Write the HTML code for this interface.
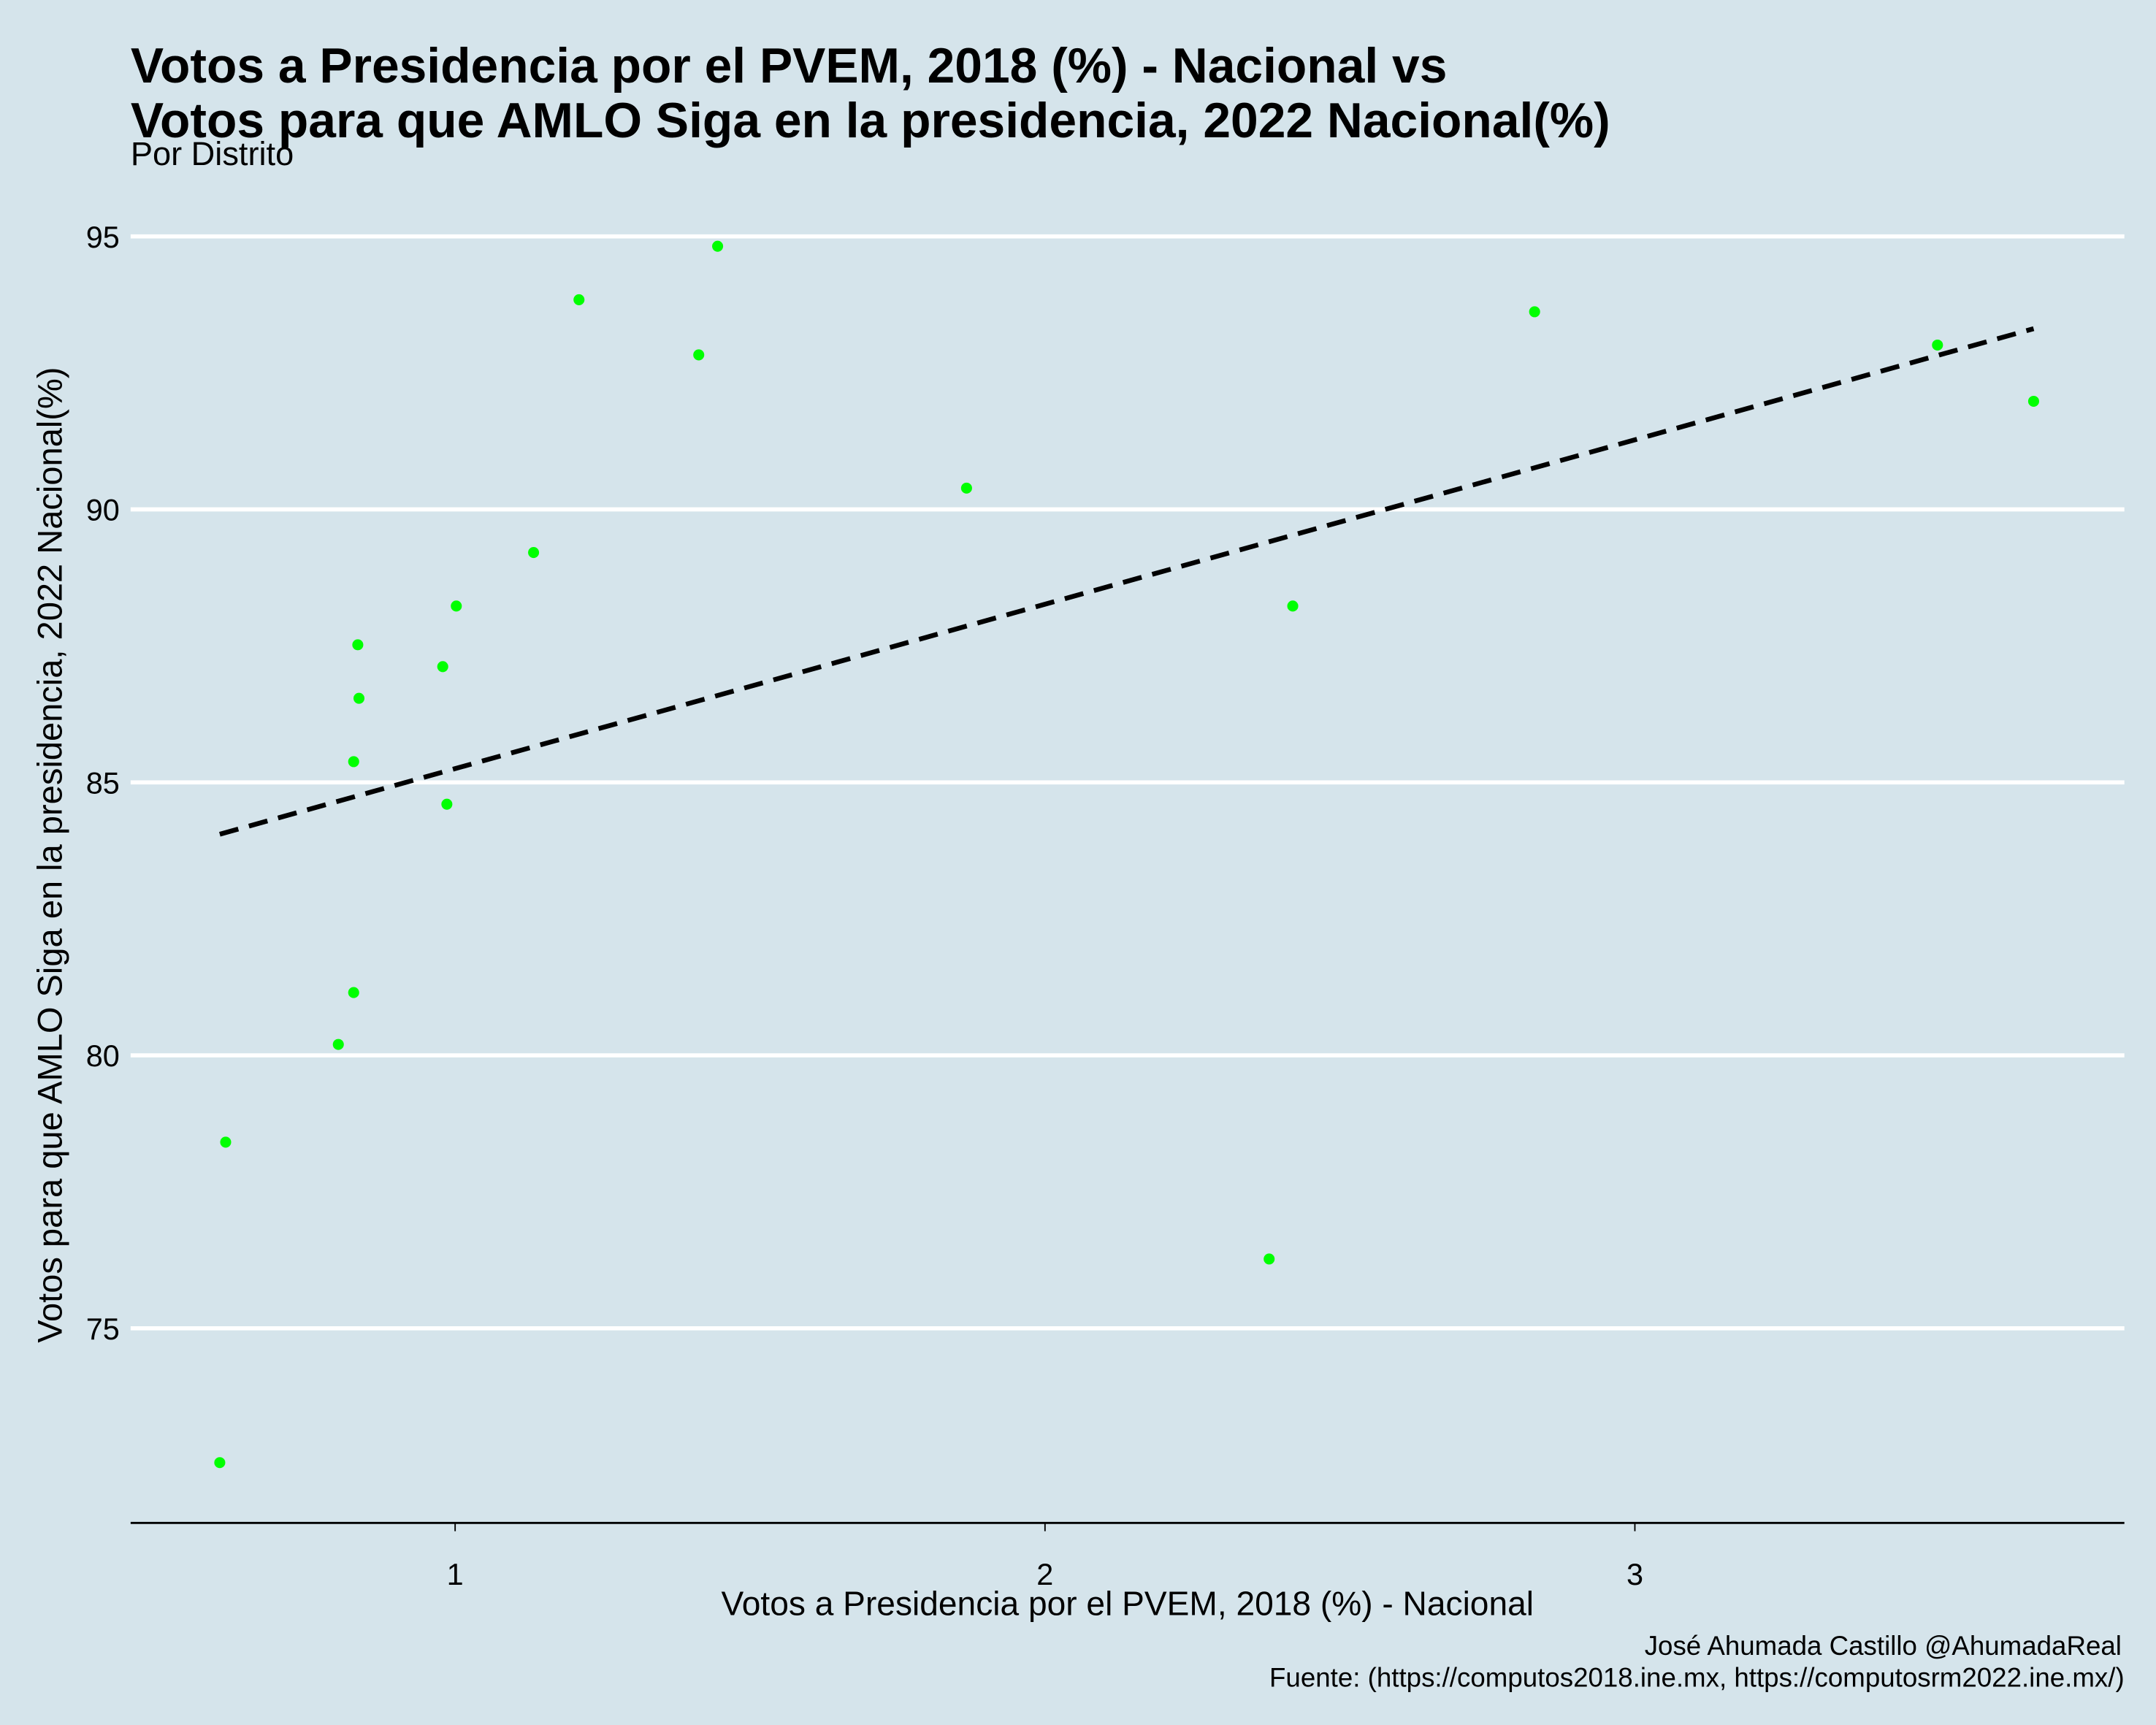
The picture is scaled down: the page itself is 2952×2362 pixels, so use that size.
<!DOCTYPE html>
<html><head><meta charset="utf-8"><style>
html,body{margin:0;padding:0;background:#d5e4eb;}
svg{display:block;font-family:"Liberation Sans",Arial,sans-serif;}
</style></head><body>
<svg width="2952" height="2362" viewBox="0 0 1568 1255" preserveAspectRatio="none" xmlns="http://www.w3.org/2000/svg">
<rect x="0" y="0" width="1568" height="1255" fill="#d5e4eb"/>
<text x="95" y="60" font-size="36" font-weight="bold" fill="#000">Votos a Presidencia por el PVEM, 2018 (%) - Nacional vs</text>
<text x="95" y="100" font-size="36" font-weight="bold" fill="#000">Votos para que AMLO Siga en la presidencia, 2022 Nacional(%)</text>
<text x="95" y="120" font-size="24" fill="#000">Por Distrito</text>
<g id="grid"></g>
<g id="yticks"></g>
<g id="xticks"></g>
<line x1="95" y1="1108" x2="1545" y2="1108" stroke="#000" stroke-width="1.5"/>
<g id="trend"></g>
<g id="points"></g>
<text x="820" y="1175" font-size="24.5" text-anchor="middle" fill="#000">Votos a Presidencia por el PVEM, 2018 (%) - Nacional</text>
<text transform="translate(45,622) rotate(-90)" font-size="25" text-anchor="middle" fill="#000">Votos para que AMLO Siga en la presidencia, 2022 Nacional(%)</text>
<text x="1543" y="1204" font-size="19.5" text-anchor="end" fill="#000">José Ahumada Castillo @AhumadaReal</text>
<text x="1545" y="1227" font-size="19.5" text-anchor="end" fill="#000">Fuente: (https://computos2018.ine.mx, https://computosrm2022.ine.mx/)</text>
</svg>
<script>
const xValues=[0.601,0.611,0.802,0.828,0.828,0.837,0.835,0.986,0.979,1.002,1.133,1.210,1.413,1.445,1.867,2.380,2.420,2.830,3.513,3.676];
const yValues=[72.54,78.41,80.20,81.15,85.38,86.54,87.52,84.60,87.12,88.23,89.21,93.84,92.83,94.82,90.39,76.27,88.23,93.62,93.01,91.98];
const xTicks=[1,2,3];
const yTicks=[75,80,85,90,95];
const trendX=[0.601,3.676];
const trendY=[84.05,93.31];
const NS="http://www.w3.org/2000/svg";
function sx(v){return 331+(v-1)*429;}
function sy(v){return 172+(95-v)*39.72;}
function mk(tag,attrs,parent){const e=document.createElementNS(NS,tag);for(const k in attrs)e.setAttribute(k,attrs[k]);parent.appendChild(e);return e;}
const grid=document.getElementById('grid'),yt=document.getElementById('yticks'),xt=document.getElementById('xticks');
yTicks.forEach(t=>{
  const l=mk('line',{x1:95,x2:1545,y1:sy(t),y2:sy(t),stroke:'#fff','stroke-width':3},grid);
  
  
  const tx=mk('text',{x:87,y:sy(t)+8,'font-size':22,'text-anchor':'end',fill:'#000'},yt);
  tx.textContent=t;
  
  
});
xTicks.forEach(t=>{
  const l=mk('line',{x1:sx(t),x2:sx(t),y1:1108,y2:1114,stroke:'#000','stroke-width':1},xt);
  
  
  const tx=mk('text',{x:sx(t),y:1153,'font-size':22,'text-anchor':'middle',fill:'#000'},xt);
  tx.textContent=t;
  
  
});
const tl=mk('line',{x1:sx(trendX[0]),y1:sy(trendY[0]),x2:sx(trendX[1]),y2:sy(trendY[1]),stroke:'#000','stroke-width':3.5,'stroke-dasharray':'14 8'},document.getElementById('trend'));


const pg=document.getElementById('points');
xValues.forEach((x,i)=>{
  const c=mk('circle',{cx:sx(x),cy:sy(yValues[i]),r:4,fill:'#00ff00'},pg);
  
  
});
</script>
</body></html>
